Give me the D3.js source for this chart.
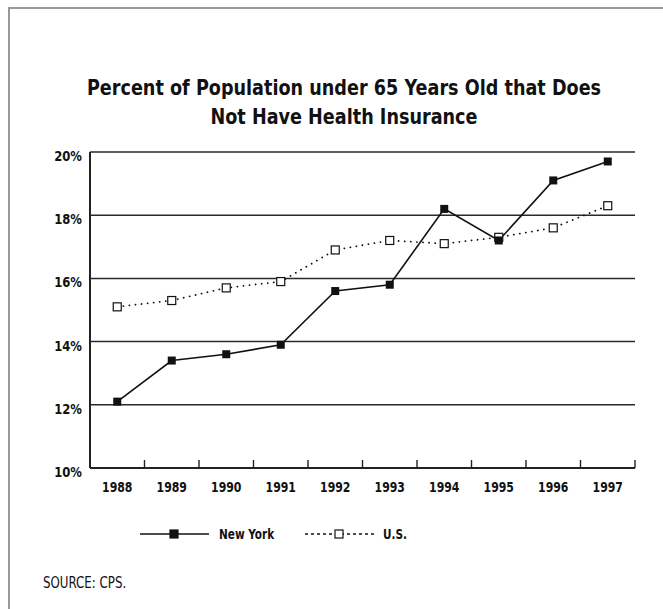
<!DOCTYPE html>
<html>
<head>
<meta charset="utf-8">
<script src="https://cdn.jsdelivr.net/npm/d3@7"></script>
<style>
  body { margin: 0; background: #fff; }
  text { font-family: "DejaVu Sans", sans-serif; fill: #111; }
</style>
</head>
<body>
<script>
// values
var years = ["1988", "1989", "1990", "1991", "1992", "1993", "1994", "1995", "1996", "1997"];
var newYork = [12.1, 13.4, 13.6, 13.9, 15.6, 15.8, 18.2, 17.2, 19.1, 19.7];
var us = [15.1, 15.3, 15.7, 15.9, 16.9, 17.2, 17.1, 17.3, 17.6, 18.3];
var yTicks = [10, 12, 14, 16, 18, 20];
var titleLines = ["Percent of Population under 65 Years Old that Does", "Not Have Health Insurance"];

var W = 663, H = 609;
var margin = {top: 152, right: 28, bottom: 141, left: 90},
    width = W - margin.left - margin.right,
    height = H - margin.top - margin.bottom;

var svg = d3.select("body").append("svg")
    .attr("width", W)
    .attr("height", H);

// narrow a text horizontally, the original face is a condensed one
function squeeze(sel, sx) {
  sel.attr("transform", function() {
    var x0 = +this.getAttribute("x") || 0;
    return "translate(" + x0 + ",0) scale(" + sx + ",1) translate(" + (-x0) + ",0)";
  });
}

// outer frame (top and left only)
svg.append("path")
    .attr("d", "M9," + H + "V8H" + W)
    .attr("fill", "none")
    .attr("stroke", "#999")
    .attr("stroke-width", 2);

// title
svg.append("g").selectAll("text")
    .data(titleLines)
    .enter().append("text")
    .attr("x", 344)
    .attr("y", function(d, i) { return 95 + i * 29; })
    .attr("text-anchor", "middle")
    .attr("font-size", 21)
    .attr("font-weight", "bold")
    .text(function(d) { return d; })
    .call(squeeze, 0.84);

var g = svg.append("g")
    .attr("transform", "translate(" + margin.left + "," + margin.top + ")");

var x = d3.scaleBand().domain(years).range([0, width]);
var y = d3.scaleLinear().domain([10, 20]).range([height, 0]);

// gridlines
g.append("g").selectAll("line")
    .data(yTicks.slice(1))
    .enter().append("line")
    .attr("x1", 0).attr("x2", width)
    .attr("y1", function(d) { return y(d); })
    .attr("y2", function(d) { return y(d); })
    .attr("stroke", "#2a2a2a")
    .attr("stroke-width", 1.5);

// y labels
g.append("g").selectAll("text")
    .data(yTicks)
    .enter().append("text")
    .attr("x", -8)
    .attr("y", function(d) { return y(d) + 9; })
    .attr("text-anchor", "end")
    .attr("font-size", 14)
    .attr("font-weight", "bold")
    .text(function(d) { return d + "%"; })
    .call(squeeze, 0.83);

// left axis line
g.append("line")
    .attr("x1", 0).attr("x2", 0)
    .attr("y1", 0).attr("y2", height)
    .attr("stroke", "#222")
    .attr("stroke-width", 2);

// bottom axis with inward ticks on band edges
g.append("line")
    .attr("x1", 0).attr("x2", width)
    .attr("y1", height).attr("y2", height)
    .attr("stroke", "#222")
    .attr("stroke-width", 2);

g.append("g").selectAll("line")
    .data(years)
    .enter().append("line")
    .attr("x1", function(d) { return x(d) + x.bandwidth(); })
    .attr("x2", function(d) { return x(d) + x.bandwidth(); })
    .attr("y1", height).attr("y2", height - 8)
    .attr("stroke", "#222")
    .attr("stroke-width", 1.4);

g.append("g").selectAll("text")
    .data(years)
    .enter().append("text")
    .attr("x", function(d) { return x(d) + x.bandwidth() / 2; })
    .attr("y", height + 24)
    .attr("text-anchor", "middle")
    .attr("font-size", 14)
    .attr("font-weight", "bold")
    .text(function(d) { return d; })
    .call(squeeze, 0.78);

var line = d3.line()
    .x(function(d, i) { return x(years[i]) + x.bandwidth() / 2; })
    .y(function(d) { return y(d); });

// U.S. dotted
g.append("path")
    .datum(us)
    .attr("d", line)
    .attr("fill", "none")
    .attr("stroke", "#111")
    .attr("stroke-width", 1.8)
    .attr("stroke-dasharray", "0.1,6")
    .attr("stroke-linecap", "round");

// New York solid
g.append("path")
    .datum(newYork)
    .attr("d", line)
    .attr("fill", "none")
    .attr("stroke", "#111")
    .attr("stroke-width", 1.6);

var sq = 8;
g.append("g").selectAll("rect")
    .data(us)
    .enter().append("rect")
    .attr("x", function(d, i) { return x(years[i]) + x.bandwidth() / 2 - sq / 2; })
    .attr("y", function(d) { return y(d) - sq / 2; })
    .attr("width", sq).attr("height", sq)
    .attr("fill", "#fff")
    .attr("stroke", "#111")
    .attr("stroke-width", 1.2);

g.append("g").selectAll("rect")
    .data(newYork)
    .enter().append("rect")
    .attr("x", function(d, i) { return x(years[i]) + x.bandwidth() / 2 - sq / 2; })
    .attr("y", function(d) { return y(d) - sq / 2; })
    .attr("width", sq).attr("height", sq)
    .attr("fill", "#111");

// legend
var legend = [
  {name: "New York", x: 140, dash: null, fill: "#111", textX: 219},
  {name: "U.S.", x: 305, dash: "3,3", fill: "#fff", textX: 383}
];
var lg = svg.append("g").selectAll("g")
    .data(legend)
    .enter().append("g");
lg.append("line")
    .attr("x1", function(d) { return d.x; })
    .attr("x2", function(d) { return d.x + 69; })
    .attr("y1", 534).attr("y2", 534)
    .attr("stroke", "#111")
    .attr("stroke-width", 1.6)
    .attr("stroke-dasharray", function(d) { return d.dash; });
lg.append("rect")
    .attr("x", function(d) { return d.x + 34 - 4; })
    .attr("y", 530)
    .attr("width", 8).attr("height", 8)
    .attr("fill", function(d) { return d.fill; })
    .attr("stroke", "#111")
    .attr("stroke-width", 1.2);
lg.append("text")
    .attr("x", function(d) { return d.textX; })
    .attr("y", 539)
    .attr("font-size", 14)
    .attr("font-weight", "bold")
    .text(function(d) { return d.name; })
    .call(squeeze, 0.75);

// source
svg.append("text")
    .attr("x", 43)
    .attr("y", 588)
    .attr("font-size", 15)
    .text("SOURCE: CPS.")
    .call(squeeze, 0.79);
</script>
</body>
</html>
